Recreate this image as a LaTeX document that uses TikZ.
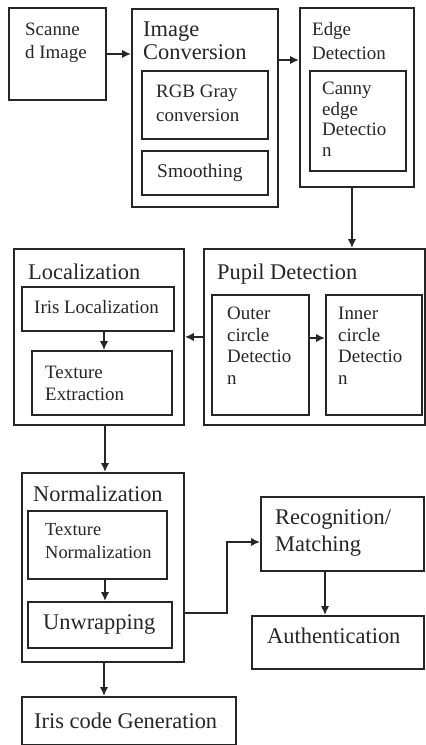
\documentclass[tikz,border=0pt]{standalone}
\usepackage{fontspec}
\setmainfont{Liberation Serif}
\usetikzlibrary{arrows.meta,calc}
\begin{document}
\begin{tikzpicture}[x=1bp,y=-1bp,
  box/.style={draw=black!85,line width=1.9bp,inner sep=0pt,anchor=north west,rectangle},
  txt/.style={anchor=north west,inner sep=0pt,align=left,text=black!85},
  arr/.style={draw=black!85,line width=1.7bp,-{Latex[length=9bp,width=8.5bp]}},
  ln/.style={draw=black!85,line width=1.6bp}]
\useasboundingbox[fill=white] (0,0) rectangle (425,745);
% boxes
\node[box,minimum width=97bp,minimum height=92bp] (scan) at (8,7) {};
\node[box,minimum width=146bp,minimum height=198bp] (imgconv) at (131,8) {};
\node[box,minimum width=126bp,minimum height=68bp] (rgb) at (141,70) {};
\node[box,minimum width=126bp,minimum height=44bp] (smooth) at (141,150) {};
\node[box,minimum width=114bp,minimum height=179bp] (edge) at (299,7) {};
\node[box,minimum width=96bp,minimum height=100bp] (canny) at (309,70) {};
\node[box,minimum width=170bp,minimum height=176bp] (loc) at (13,248) {};
\node[box,minimum width=152bp,minimum height=44bp] (irisloc) at (21,286) {};
\node[box,minimum width=140bp,minimum height=64bp] (texext) at (31,350) {};
\node[box,minimum width=221bp,minimum height=176bp] (pupil) at (203,248) {};
\node[box,minimum width=97bp,minimum height=120bp] (outer) at (211,294) {};
\node[box,minimum width=96bp,minimum height=120bp] (inner) at (325,294) {};
\node[box,minimum width=162bp,minimum height=189bp] (norm) at (21,472) {};
\node[box,minimum width=139bp,minimum height=68bp] (texnorm) at (27,510) {};
\node[box,minimum width=144bp,minimum height=46bp] (unwrap) at (27,601) {};
\node[box,minimum width=163bp,minimum height=74bp] (rec) at (260,496) {};
\node[box,minimum width=172bp,minimum height=53bp] (auth) at (251,615) {};
\node[box,minimum width=214bp,minimum height=48bp] (iris) at (21,696) {};
% texts
\node[txt,font={\fontsize{19}{23}\selectfont}] (t-scan) at (25,18.9) {\strut Scanne\\\strut d Image};
\node[txt,font={\fontsize{22.5}{23}\selectfont}] (t-imgconv) at (143,19.9) {\strut Image\\\strut Conversion};
\node[txt,font={\fontsize{19}{24}\selectfont}] (t-rgb) at (156,80.2) {\strut RGB Gray\\\strut conversion};
\node[txt,font={\fontsize{19.5}{22}\selectfont}] (t-smooth) at (157,161.6) {\strut Smoothing};
\node[txt,font={\fontsize{19}{24}\selectfont}] (t-edge) at (312,18.2) {\strut Edge\\\strut Detection};
\node[txt,font={\fontsize{19}{21}\selectfont}] (t-canny) at (322,79.3) {\strut Canny\\\strut edge\\\strut Detectio\\\strut n};
\node[txt,font={\fontsize{22.5}{23}\selectfont}] (t-loc) at (28,262.9) {\strut Localization};
\node[txt,font={\fontsize{19}{22}\selectfont}] (t-irisloc) at (34,297.6) {\strut Iris Localization};
\node[txt,font={\fontsize{19}{22}\selectfont}] (t-texext) at (45,362.6) {\strut Texture\\\strut Extraction};
\node[txt,font={\fontsize{22.5}{23}\selectfont}] (t-pupil) at (217,262.9) {\strut Pupil Detection};
\node[txt,font={\fontsize{19}{22}\selectfont}] (t-outer) at (227,303.6) {\strut Outer\\\strut circle\\\strut Detectio\\\strut n};
\node[txt,font={\fontsize{19}{22}\selectfont}] (t-inner) at (338,303.6) {\strut Inner\\\strut circle\\\strut Detectio\\\strut n};
\node[txt,font={\fontsize{22.5}{23}\selectfont}] (t-norm) at (33,484.9) {\strut Normalization};
\node[txt,font={\fontsize{18.5}{23}\selectfont}] (t-texnorm) at (45,518.9) {\strut Texture\\\strut Normalization};
\node[txt,font={\fontsize{22.5}{23}\selectfont}] (t-unwrap) at (43,612.9) {\strut Unwrapping};
\node[txt,font={\fontsize{22.5}{27}\selectfont}] (t-rec) at (275,505.1) {\strut Recognition/\\\strut Matching};
\node[txt,font={\fontsize{22.5}{23}\selectfont}] (t-auth) at (267,626.9) {\strut Authentication};
\node[txt,font={\fontsize{22.5}{23}\selectfont}] (t-iris) at (34,711.9) {\strut Iris code Generation};
% connector points
\coordinate (c2) at ($(imgconv.north east)+(0,52)$);
\coordinate (c3) at ($(edge.south)+(-5,0)$);
\coordinate (c5) at ($(outer.north east)+(0,44)$);
\coordinate (c6) at ($(irisloc.south west)+(83,0)$);
\coordinate (c7) at ($(loc.south west)+(92,0)$);
\coordinate (c8) at ($(texnorm.south west)+(78,0)$);
\coordinate (c9) at ($(norm.south west)+(83,0)$);
\coordinate (c10) at ($(norm.north east)+(0,141)$);
\coordinate (bend) at ($(rec.north west)+(-33,46)$);
\coordinate (c11) at ($(rec.south west)+(65,0)$);
% connectors
\draw[arr] (scan.east) -- (scan.east -| imgconv.west);
\draw[arr] (c2) -- (c2 -| edge.west);
\draw[arr] (c3) -- (c3 |- pupil.north);
\draw[arr] (pupil.west) -- (pupil.west -| loc.east);
\draw[arr] (c5) -- (c5 -| inner.west);
\draw[arr] (c6) -- (c6 |- texext.north);
\draw[arr] (c7) -- (c7 |- norm.north);
\draw[arr] (c8) -- (c8 |- unwrap.north);
\draw[arr] (c9) -- (c9 |- iris.north);
\draw[arr] (c10) -| (bend) -- (bend -| rec.west);
\draw[arr] (c11) -- (c11 |- auth.north);
\end{tikzpicture}
\end{document}
